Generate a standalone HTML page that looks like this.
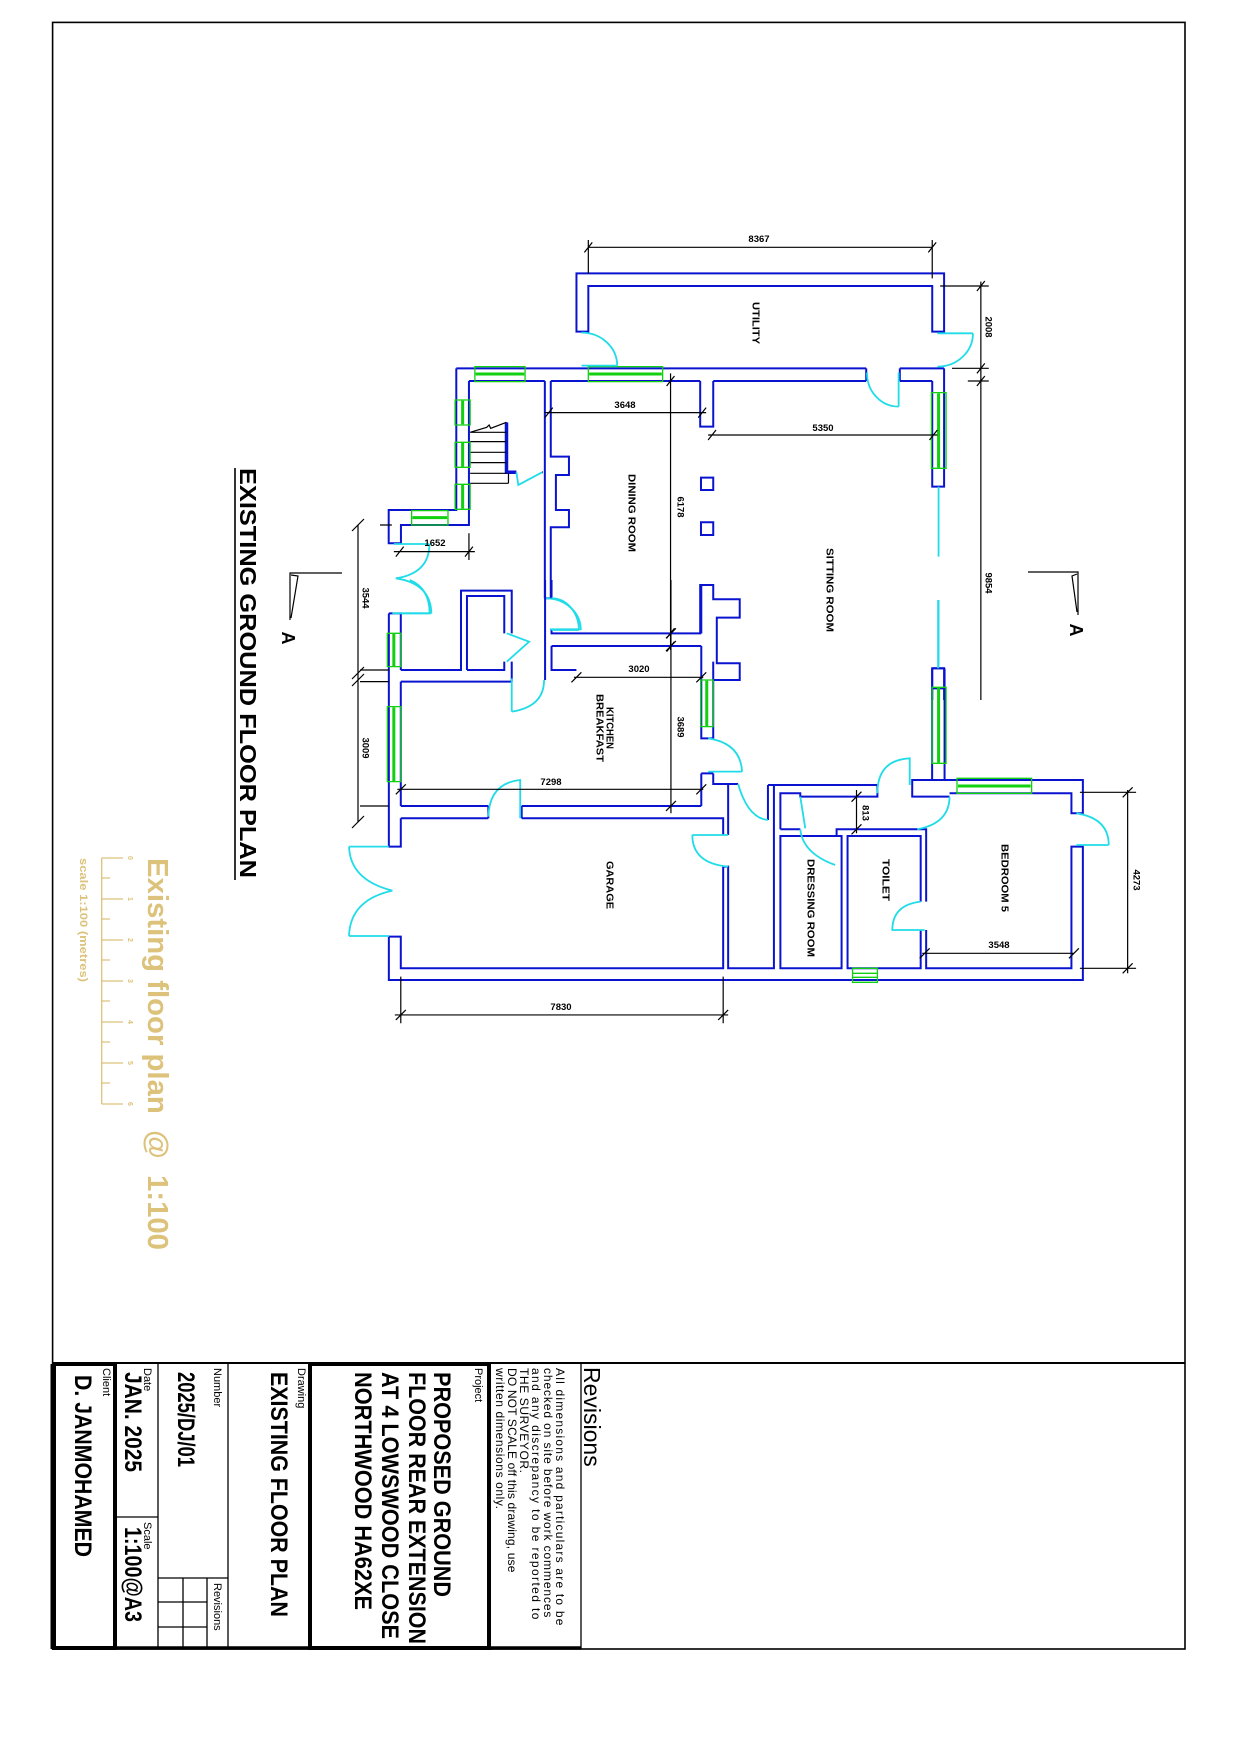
<!DOCTYPE html>
<html><head><meta charset="utf-8"><style>
html,body{margin:0;padding:0;background:#fff;}
svg{display:block;}
.z path,.z rect,.z line{vector-effect:non-scaling-stroke;}
.b{fill:none;stroke:#0a14d0;stroke-width:2;}
.bt{fill:none;stroke:#0a14d0;stroke-width:3.5;}
.g{fill:none;stroke:#10d010;stroke-width:1.3;}
.gf{fill:none;stroke:#10d010;stroke-width:3;}
.c{fill:none;stroke:#20dce8;stroke-width:1.8;}
.k{fill:none;stroke:#000;stroke-width:1.2;}
text{font-family:"Liberation Sans",Arial,sans-serif;}
.lab{font-weight:bold;font-size:10px;fill:#000;}
.dim{font-weight:bold;font-size:9.5px;fill:#000;}
</style></head><body>
<svg width="1240" height="1755" viewBox="0 0 1240 1755" xmlns="http://www.w3.org/2000/svg">
<rect x="0" y="0" width="1240" height="1755" fill="#fff"/>
<rect x="52.6" y="22.4" width="1132.4" height="1626.6" fill="none" stroke="#000" stroke-width="1.6"/>
<line x1="52" y1="1363" x2="1185" y2="1363" stroke="#000" stroke-width="2"/>
<rect x="54" y="1364" width="61" height="284" fill="none" stroke="#000" stroke-width="4"/>
<rect x="310" y="1364" width="179" height="284" fill="none" stroke="#000" stroke-width="4"/>
<line x1="52" y1="1648" x2="581" y2="1648" stroke="#000" stroke-width="3.5"/>
<line x1="52" y1="1364" x2="52" y2="1649" stroke="#000" stroke-width="3"/>
<line x1="158" y1="1363" x2="158" y2="1649" stroke="#000" stroke-width="1.3"/>
<line x1="228" y1="1363" x2="228" y2="1649" stroke="#000" stroke-width="1.3"/>
<line x1="581" y1="1363" x2="581" y2="1649" stroke="#000" stroke-width="1.3"/>
<line x1="115" y1="1517" x2="158" y2="1517" stroke="#000" stroke-width="1.3"/>
<line x1="158" y1="1578" x2="228" y2="1578" stroke="#000" stroke-width="1.3"/>
<line x1="183" y1="1578" x2="183" y2="1649" stroke="#000" stroke-width="1.3"/>
<line x1="207" y1="1578" x2="207" y2="1649" stroke="#000" stroke-width="1.3"/>
<line x1="158" y1="1602" x2="207" y2="1602" stroke="#000" stroke-width="1.3"/>
<line x1="158" y1="1627" x2="207" y2="1627" stroke="#000" stroke-width="1.3"/>

<text transform="translate(584,1367) rotate(90)" font-size="23" fill="#000">Revisions</text>
<g font-size="12" fill="#000" letter-spacing="0.6">
<text transform="translate(556,1368) rotate(90)" textLength="258">All dimensions and particulars are to be</text>
<text transform="translate(544,1368) rotate(90)" textLength="250">checked on site before work commences</text>
<text transform="translate(532,1368) rotate(90)" textLength="252">and any discrepancy to be reported to</text>
<text transform="translate(520,1368) rotate(90)">THE SURVEYOR.</text>
<text transform="translate(508,1368) rotate(90)" textLength="205">DO NOT SCALE off this drawing, use</text>
<text transform="translate(496,1368) rotate(90)">written dimensions only.</text>
</g>
<g font-size="11" fill="#000">
<text transform="translate(475,1368) rotate(90)">Project</text>
<text transform="translate(298,1368) rotate(90)">Drawing</text>
<text transform="translate(214,1368) rotate(90)">Number</text>
<text transform="translate(214,1583) rotate(90)">Revisions</text>
<text transform="translate(144,1368) rotate(90)">Date</text>
<text transform="translate(144,1522) rotate(90)">Scale</text>
<text transform="translate(103,1368) rotate(90)">Client</text>
</g>
<g font-size="24" font-weight="bold" fill="#000">
<text transform="translate(434,1372) rotate(90)" textLength="225" lengthAdjust="spacingAndGlyphs">PROPOSED GROUND</text>
<text transform="translate(409,1372) rotate(90)" textLength="272" lengthAdjust="spacingAndGlyphs">FLOOR REAR EXTENSION</text>
<text transform="translate(382,1372) rotate(90)" textLength="267" lengthAdjust="spacingAndGlyphs">AT 4 LOWSWOOD CLOSE</text>
<text transform="translate(355,1372) rotate(90)" textLength="238" lengthAdjust="spacingAndGlyphs">NORTHWOOD HA62XE</text>
<text transform="translate(271,1372) rotate(90)" textLength="245" lengthAdjust="spacingAndGlyphs">EXISTING FLOOR PLAN</text>
<text transform="translate(178,1372) rotate(90)" textLength="95" lengthAdjust="spacingAndGlyphs">2025/DJ/01</text>
<text transform="translate(125,1372) rotate(90)" textLength="100" lengthAdjust="spacingAndGlyphs">JAN. 2025</text>
<text transform="translate(125,1527) rotate(90)" textLength="95" lengthAdjust="spacingAndGlyphs">1:100@A3</text>
<text transform="translate(75,1375) rotate(90)" textLength="182" lengthAdjust="spacingAndGlyphs">D. JANMOHAMED</text>
</g>

<text transform="translate(240,468) rotate(90)" font-size="23" font-weight="bold" fill="#000" textLength="410" lengthAdjust="spacingAndGlyphs">EXISTING GROUND FLOOR PLAN</text>
<line x1="235" y1="468" x2="235" y2="880" stroke="#000" stroke-width="1.6"/>

<g stroke="#dcc27a" stroke-width="1.3" fill="none">
<line x1="101.7" y1="858" x2="101.7" y2="1104"/>
<path d="M101.7,858H123 M101.7,878H110 M101.7,899H123 M101.7,919H110 M101.7,940H123 M101.7,960H110 M101.7,981H123 M101.7,1001H110 M101.7,1022H123 M101.7,1042H110 M101.7,1063H123 M101.7,1083H110 M101.7,1104H123"/>
</g>
<g font-size="7" font-weight="bold" fill="#dcc27a">
<text transform="translate(128,858) rotate(90)" text-anchor="middle">0</text>
<text transform="translate(128,899) rotate(90)" text-anchor="middle">1</text>
<text transform="translate(128,940) rotate(90)" text-anchor="middle">2</text>
<text transform="translate(128,981) rotate(90)" text-anchor="middle">3</text>
<text transform="translate(128,1022) rotate(90)" text-anchor="middle">4</text>
<text transform="translate(128,1063) rotate(90)" text-anchor="middle">5</text>
<text transform="translate(128,1104) rotate(90)" text-anchor="middle">6</text>
</g>
<text transform="translate(80,858) rotate(90)" font-size="11" font-weight="bold" fill="#dcc27a" textLength="124" lengthAdjust="spacingAndGlyphs">scale 1:100 (metres)</text>
<text transform="translate(148,858) rotate(90)" font-size="29" font-weight="bold" fill="#dcc27a" textLength="392" lengthAdjust="spacingAndGlyphs" xml:space="preserve">Existing floor plan  @  1:100</text>

<path class="k" d="M342,573H290V620 M291,575L298,576L291,618"/>
<text transform="translate(282,638) rotate(90)" font-size="18" font-weight="bold" text-anchor="middle" fill="#000">A</text>
<path class="k" d="M1028,572H1078V615 M1077,574L1072,576L1077,612"/>
<text transform="translate(1070,630) rotate(90)" font-size="18" font-weight="bold" text-anchor="middle" fill="#000">A</text>
<path class="k" d="M358,525V822 M352,531L364,519 M352,679L364,667 M352,686L364,674 M352,828L364,816"/>

<g class="z" transform="translate(380,220) scale(0.3953,0.3333)">
<path class="b" d="M527,335H497V160H1427V335H1397V198H527Z"/>
<path class="b" d="M193,445H1230 M1315,445H1427 M225,483H417 M432,483H810 M843,483H1230 M1315,483H1397 M1230,445V483 M1315,445V483"/>
<path class="b" d="M193,445V870H22V970H53V915H225V483"/>
<path class="b" d="M417,483V1135 M432,483V710H478V765H445V870H478V922H432V1135 M417,1135H432"/>
<path class="b" d="M810,483V620H843V483"/>
<rect class="b" x="812" y="773" width="31" height="37"/>
<rect class="b" x="812" y="907" width="31" height="38"/>
<path class="b" d="M810,1240V1095H843V1138H910V1193H852V1330H910V1380H843"/>
<path class="b" d="M1427,445V800H1397V483 M1397,1440V1345H1427V1440"/>
<path class="bt" d="M320,607V757H345"/>
<path class="b" d="M410,757L412,757" stroke-width="4"/>
<path class="k" d="M228,637H320 M228,665H320 M228,697H320 M228,728H320 M228,760H320 M228,790H325 M325,760V790 M228,637L270,622L276,615L280,625L320,607"/>
<g>
<rect class="g" x="240" y="440" width="127" height="45"/><path class="gf" d="M242,462H365"/>
<rect class="g" x="527" y="440" width="188" height="45"/><path class="gf" d="M529,462H713"/>
<rect class="g" x="190" y="540" width="38" height="75"/><path class="gf" d="M209,542V613"/>
<rect class="g" x="190" y="667" width="38" height="75"/><path class="gf" d="M209,669V740"/>
<rect class="g" x="190" y="793" width="38" height="75"/><path class="gf" d="M209,795V866"/>
<rect class="g" x="80" y="872" width="92" height="43"/><path class="gf" d="M82,893H170"/>
<rect class="g" x="1395" y="518" width="37" height="227"/><path class="gf" d="M1413,520V743"/>
</g>
<path class="c" d="M510,437H600 M510,338A90,99 0 0 1 600,437"/>
<path class="c" d="M1410,340H1500 M1500,340A90,100 0 0 1 1410,440"/>
<path class="c" d="M1232,458A80,100 0 0 0 1312,560 M1312,458V560"/>
<path class="c" d="M35,972H125 M125,972Q125,1060 40,1075 Q128,1090 130,1180 M53,1180H130"/>
<path class="c" d="M420,1135A88,95 0 0 1 508,1230 M430,1228H508"/>
<path class="c" d="M345,757L350,795L410,757"/>
<path class="c" d="M1413,800V1010 M1413,1140V1340"/>
<path class="k" d="M527,160V60 M1397,175V60 M527,82H1397 M517,97L537,67 M1387,97L1407,67"/>
<path class="k" d="M1520,185V1440 M1417,198H1540 M1447,445H1540 M1487,483H1540 M1510,213L1530,183 M1510,460L1530,430 M1510,498L1530,468"/>
<path class="k" d="M417,578H825 M417,593L437,563 M805,593L825,563"/>
<path class="k" d="M830,645H1410 M830,660L850,630 M1390,660L1410,630"/>
<path class="k" d="M735,460V1290 M725,498L745,468 M725,1255L745,1225 M725,1295L745,1265"/>
<path class="k" d="M35,995H240 M225,940V1020 M40,1010L60,980 M215,1010L235,980 M0,915H30"/>
</g>

<g class="z" transform="translate(360,580) scale(0.4975,0.3333)">
<path class="b" d="M58,100V800H82V715 M82,678V305 M82,270V100H58"/>
<path class="b" d="M82,270H203V32H305V160 M305,245V305 M215,270V48H290V160 M290,245V270H215 M82,305H305"/>
<path class="b" d="M372,0V300 M385,0V55 M385,150V160H686 M385,198H686 M385,198V270H435"/>
<path class="b" d="M686,198V300 M710,300V245 M686,440V475H710V440 M686,300V440 M710,300V440 M686,580V678 M710,580V612H740V765 M686,580H710 M686,160V15"/>
<path class="b" d="M82,678H258 M325,678H686 M82,715H258 M325,715H730V765 M258,678V715 M325,678V715"/>
<path class="b" d="M58,1070H82V1165H730V860H740V1165H832V615H1040 M58,1070V1200H1453V800H1430V1165H1138V1050 M1127,1050V1165H980V768H1127V965 M1138,965V748H958V768H968V1165H845V768H958 M845,748V640H885V650H1040V615 M885,748H845 M820,615V720 M832,615H820"/>
<path class="b" d="M1110,615V650H1185 M1185,640H1430V700H1453V600H1110V615"/>
<path class="b" d="M1150,265V600 M1175,265V600 M1150,265H1175 M1150,325H1175"/>
<path class="b" d="M710,612H760"/>
<rect class="g" x="55" y="160" width="27" height="100"/><path class="gf" d="M68,162V258"/>
<rect class="g" x="55" y="380" width="27" height="225"/><path class="gf" d="M68,382V603"/>
<rect class="g" x="685" y="300" width="25" height="140"/><path class="gf" d="M697,302V438"/>
<rect class="g" x="1150" y="322" width="28" height="228"/><path class="gf" d="M1163,324V548"/>
<rect class="g" x="1200" y="595" width="150" height="45"/><path class="gf" d="M1202,618H1348"/>
<rect class="g" x="990" y="1165" width="50" height="42"/><path class="g" d="M990,1180H1040 M990,1192H1040"/>
<path class="c" d="M65,100H140 M140,100Q140,25 100,0"/>
<path class="c" d="M385,55A55,95 0 0 1 440,150 M385,150H440"/>
<path class="c" d="M295,160L340,185L295,245"/>
<path class="c" d="M305,295V395 M305,395Q370,380 370,300"/>
<path class="c" d="M258,710Q260,610 322,600V715"/>
<path class="c" d="M740,765H668 M668,765Q668,850 740,860"/>
<path class="c" d="M700,475Q765,490 768,575 M700,575H768"/>
<path class="c" d="M760,612Q780,715 820,720"/>
<path class="c" d="M885,748Q890,820 955,855 M885,650L895,745"/>
<path class="c" d="M1040,640Q1040,540 1105,535V615"/>
<path class="c" d="M1120,748Q1185,730 1185,650"/>
<path class="c" d="M1127,965Q1070,975 1070,1050H1135"/>
<path class="c" d="M1440,700Q1505,715 1505,795 M1440,795H1505"/>
<path class="c" d="M-22,800H58 M-22,1068H58 M-22,800Q-20,900 65,932 Q-20,960 -22,1068"/>
<path class="c" d="M1162,60V265"/>
<path class="k" d="M430,292H690 M425,307L445,277 M676,307L696,277"/>
<path class="k" d="M75,628H690 M72,643L92,613 M676,643L696,613"/>
<path class="k" d="M625,0V700 M615,175L635,145 M615,213L635,183 M615,693L635,663"/>
<path class="k" d="M998,630V760 M988,665L1008,635 M988,763L1008,733"/>
<path class="k" d="M1543,630V1180 M1447,637H1560 M1447,1165H1560 M1533,652L1553,622 M1533,1180L1553,1150"/>
<path class="k" d="M1130,1120H1435 M1125,1135L1145,1105 M1425,1135L1445,1105"/>
<path class="k" d="M70,1305H740 M82,1190V1330 M730,1190V1330 M72,1320L92,1290 M720,1320L740,1290"/>
<path class="k" d="M0,270H58 M0,305H58 M0,678H58"/>
</g>

<g class="lab">
<text transform="translate(755,323) rotate(90)" text-anchor="middle" dominant-baseline="central" textLength="42" lengthAdjust="spacingAndGlyphs">UTILITY</text>
<text transform="translate(631,513) rotate(90)" text-anchor="middle" dominant-baseline="central" textLength="78" lengthAdjust="spacingAndGlyphs">DINING ROOM</text>
<text transform="translate(829,590) rotate(90)" text-anchor="middle" dominant-baseline="central" textLength="84" lengthAdjust="spacingAndGlyphs">SITTING ROOM</text>
<text transform="translate(609,728) rotate(90)" text-anchor="middle" dominant-baseline="central" textLength="42" lengthAdjust="spacingAndGlyphs">KITCHEN</text>
<text transform="translate(599,728) rotate(90)" text-anchor="middle" dominant-baseline="central" textLength="68" lengthAdjust="spacingAndGlyphs">BREAKFAST</text>
<text transform="translate(609,885) rotate(90)" text-anchor="middle" dominant-baseline="central" textLength="48" lengthAdjust="spacingAndGlyphs">GARAGE</text>
<text transform="translate(810,908) rotate(90)" text-anchor="middle" dominant-baseline="central" textLength="98" lengthAdjust="spacingAndGlyphs">DRESSING ROOM</text>
<text transform="translate(885,880) rotate(90)" text-anchor="middle" dominant-baseline="central" textLength="42" lengthAdjust="spacingAndGlyphs">TOILET</text>
<text transform="translate(1004,878) rotate(90)" text-anchor="middle" dominant-baseline="central" textLength="68" lengthAdjust="spacingAndGlyphs">BEDROOM 5</text>
</g>
<g class="dim">
<text x="759" y="242" text-anchor="middle">8367</text>
<text x="625" y="408" text-anchor="middle">3648</text>
<text x="823" y="431" text-anchor="middle">5350</text>
<text x="435" y="546" text-anchor="middle">1652</text>
<text x="639" y="672" text-anchor="middle">3020</text>
<text x="551" y="785" text-anchor="middle">7298</text>
<text x="999" y="948" text-anchor="middle">3548</text>
<text x="561" y="1010" text-anchor="middle">7830</text>
<text transform="translate(680,507) rotate(90)" text-anchor="middle" dominant-baseline="central">6178</text>
<text transform="translate(988,327) rotate(90)" text-anchor="middle" dominant-baseline="central">2008</text>
<text transform="translate(988,583) rotate(90)" text-anchor="middle" dominant-baseline="central">9854</text>
<text transform="translate(365,598) rotate(90)" text-anchor="middle" dominant-baseline="central">3544</text>
<text transform="translate(365,748) rotate(90)" text-anchor="middle" dominant-baseline="central">3009</text>
<text transform="translate(680,727) rotate(90)" text-anchor="middle" dominant-baseline="central">3689</text>
<text transform="translate(865,813) rotate(90)" text-anchor="middle" dominant-baseline="central">813</text>
<text transform="translate(1136,880) rotate(90)" text-anchor="middle" dominant-baseline="central">4273</text>
</g>
</svg>
</body></html>
